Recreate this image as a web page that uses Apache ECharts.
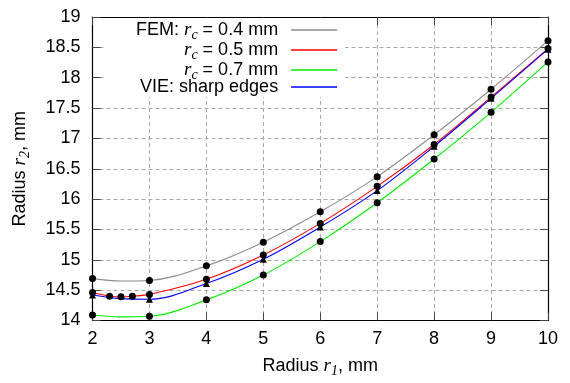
<!DOCTYPE html>
<html><head><meta charset="utf-8">
<script src="https://cdn.jsdelivr.net/npm/echarts@6/dist/echarts.min.js"></script>
<style>html,body{margin:0;padding:0;background:#fff}#c{width:570px;height:383px}</style>
</head><body><div id="c"></div>
<script>
// ---- data ----
const xTicks = [2, 3, 4, 5, 6, 7, 8, 9, 10];
const yTicks = [14, 14.5, 15, 15.5, 16, 16.5, 17, 17.5, 18, 18.5, 19];
const seriesNames = ['FEM: rc = 0.4 mm', 'rc = 0.5 mm', 'rc = 0.7 mm', 'VIE: sharp edges'];
// FEM dots at integer radii
const dotX = [2, 3, 4, 5, 6, 7, 8, 9, 10];
const fem04 = [14.69, 14.66, 14.90, 15.29, 15.79, 16.37, 17.06, 17.81, 18.61];
const fem05 = [14.46, 14.43, 14.68, 15.08, 15.60, 16.21, 16.90, 17.68, 18.48];
const fem07 = [14.09, 14.07, 14.34, 14.75, 15.30, 15.94, 16.66, 17.43, 18.26];
// extra FEM r_c = 0.5 mm dots
const fem05ExtraX = [2.3, 2.5, 2.7];
const fem05ExtraY = [14.40, 14.39, 14.40];
// VIE triangles
const vie = [14.42, 14.35, 14.61, 15.01, 15.54, 16.14, 16.87, 17.66, 18.47];
// curves
const curveX = [2, 2.5, 3, 4, 5, 6, 7, 8, 9, 10];
const curve04 = [14.69, 14.65, 14.66, 14.90, 15.29, 15.79, 16.37, 17.06, 17.81, 18.61];
const curve07 = [14.09, 14.06, 14.07, 14.34, 14.75, 15.30, 15.94, 16.66, 17.43, 18.26];
const curveVie = [14.42, 14.36, 14.35, 14.61, 15.01, 15.54, 16.14, 16.87, 17.66, 18.47];
const curve05X = [2, 2.3, 2.5, 2.7, 3, 4, 5, 6, 7, 8, 9, 10];
const curve05 = [14.46, 14.40, 14.39, 14.40, 14.43, 14.68, 15.08, 15.60, 16.21, 16.90, 17.68, 18.48];
const lineColors = ['#8c8c8c', '#ff0000', '#00ee00', '#0000ff'];

// ---- chart ----
const zip = (xs, ys) => xs.map((x, i) => [x, ys[i]]);
const FONT = 'Liberation Sans';
const SERIF = 'Liberation Serif';
const rich = {
  t: { fontFamily: FONT, fontSize: 18, color: '#000', lineHeight: 19 },
  i: { fontFamily: SERIF, fontStyle: 'italic', fontSize: 19, color: '#000', lineHeight: 19 },
  s: { fontFamily: SERIF, fontStyle: 'italic', fontSize: 14, color: '#000', lineHeight: 19, padding: [10, 0, 0, 0] }
};
const legendText = {};
legendText[seriesNames[0]] = '{t|FEM: }{i|r}{s|c}{t| = 0.4 mm}';
legendText[seriesNames[1]] = '{i|r}{s|c}{t| = 0.5 mm}';
legendText[seriesNames[2]] = '{i|r}{s|c}{t| = 0.7 mm}';
legendText[seriesNames[3]] = '{t|VIE: sharp edges}';

const split = { show: true, lineStyle: { color: '#a8a8a8', type: [4, 3], width: 1 } };
const tick = { show: true, inside: true, length: 8, lineStyle: { color: '#444' } };
const axLine = { show: true, onZero: false, lineStyle: { color: '#000', width: 1.2 } };
const lab = { fontFamily: FONT, fontSize: 18, color: '#000' };

const curves = [zip(curveX, curve04), zip(curve05X, curve05), zip(curveX, curve07), zip(curveX, curveVie)];
const series = curves.map((d, k) => ({
  name: seriesNames[k], type: 'line', data: d, smooth: 0.35, symbol: 'none',
  lineStyle: { color: lineColors[k], width: 1.1 }, itemStyle: { color: lineColors[k] }, z: 2
}));
series.push({ name: 'vieTri', type: 'scatter', symbol: 'triangle', symbolSize: 7,
  itemStyle: { color: '#000', opacity: 1 }, data: zip(dotX, vie), z: 3 });
series.push({ name: 'femDots', type: 'scatter', symbol: 'circle', symbolSize: 7,
  itemStyle: { color: '#000', opacity: 1 },
  data: zip(dotX, fem04).concat(zip(dotX, fem05), zip(dotX, fem07), zip(fem05ExtraX, fem05ExtraY)), z: 4 });

const option = {
  animation: false,
  backgroundColor: '#fff',
  grid: { left: 92, right: 22, top: 17, bottom: 59, show: false },
  legend: {
    data: seriesNames.map(n => ({ name: n, icon: 'rect' })), orient: 'vertical', align: 'right',
    left: 104, top: 18, padding: [0, 8, 1, 32], itemGap: -4,
    itemWidth: 46, itemHeight: 1.3, backgroundColor: '#fff',
    textStyle: { rich: rich, padding: [0, 8, 0, 0] },
    formatter: n => legendText[n], selectedMode: false, z: 5
  },
  xAxis: [{
    type: 'value', min: xTicks[0], max: xTicks[xTicks.length - 1], interval: 1, position: 'bottom',
    axisLine: axLine, axisTick: tick, splitLine: split,
    axisLabel: Object.assign({ margin: 10 }, lab),
    name: '{t|Radius }{i|r}{s|1}{t|, mm}', nameLocation: 'middle', nameGap: 36,
    nameTextStyle: { rich: rich }
  }, {
    type: 'value', min: xTicks[0], max: xTicks[xTicks.length - 1], interval: 1, position: 'top',
    axisLine: axLine, axisTick: tick, splitLine: { show: false }, axisLabel: { show: false }
  }],
  yAxis: [{
    type: 'value', min: yTicks[0], max: yTicks[yTicks.length - 1], interval: 0.5, position: 'left',
    axisLine: axLine, axisTick: tick, splitLine: split,
    axisLabel: Object.assign({ margin: 12 }, lab),
    name: '{t|Radius }{i|r}{s|2}{t|, mm}', nameLocation: 'middle', nameGap: 63,
    nameTextStyle: { rich: rich }
  }, {
    type: 'value', min: yTicks[0], max: yTicks[yTicks.length - 1], interval: 0.5, position: 'right',
    axisLine: axLine, axisTick: tick, splitLine: { show: false }, axisLabel: { show: false }
  }],
  series: series
};
const chart = echarts.init(document.getElementById('c'), null, { renderer: 'canvas' });
chart.setOption(option);
</script>
</body></html>
